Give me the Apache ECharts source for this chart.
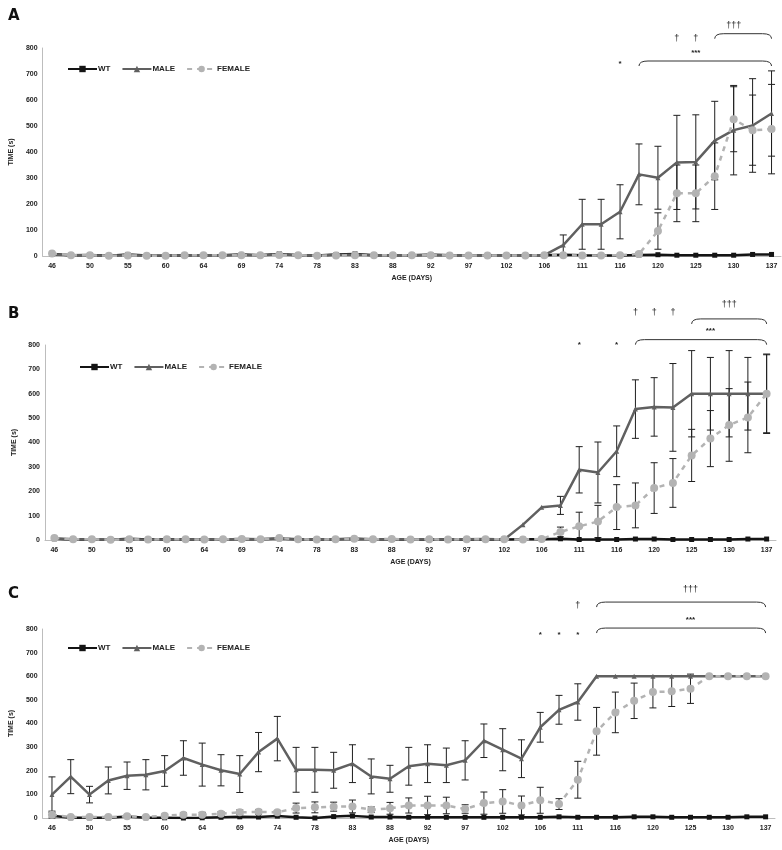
<!DOCTYPE html>
<html><head><meta charset="utf-8">
<script src="https://cdn.jsdelivr.net/npm/echarts@6/dist/echarts.min.js"></script>
<style>html,body{margin:0;padding:0;background:#fff}#c{width:782px;height:850px}</style>
</head><body><div id="c"></div>
<script>
// ---- categories (age in days) ----
const days = ['46','48','50','53','55','57','60','62','64','67','69','71','74','76','78','81','83','85','88','90','92','95','97','99','102','104','106','109','111','113','116','118','120','123','125','127','130','134','137'];
const yTicks = [0,100,200,300,400,500,600,700,800];
const seriesNames = ['WT','MALE','FEMALE'];

// ---- Panel A ----
const wtA     = [8,3,4,1,6,2,1,3,3,3,6,3,8,3,2,6,8,3,3,3,5,3,3,3,3,3,3,5,3,2,2,4,5,3,3,3,3,6,6];
const maleA   = [6,3,3,1,3,2,1,3,3,3,4,3,6,3,2,4,5,3,3,3,4,3,3,3,3,3,3,42,122,122,170,314,301,360,362,444,484,502,548];
const femaleA = [10,3,3,1,2,1,1,3,3,3,3,3,4,3,1,2,3,3,3,3,3,2,2,2,2,2,3,3,2,2,3,8,96,241,241,307,526,484,488];
const maleErrA   = [null,null,null,null,null,null,null,null,null,null,null,null,null,null,null,null,null,null,null,null,null,null,null,null,null,null,null,39,96,96,104,117,121,181,181,151,172,180,164];
const femaleErrA = [null,null,null,null,null,null,null,null,null,null,null,null,null,null,null,null,null,null,null,null,null,null,null,null,null,null,null,null,null,null,null,6,70,109,109,128,125,135,172];
const textsA = [[29.85,746,'*'],[33,835,'†'],[34,835,'†'],[36.15,887,'†††'],[34.4,791,'***']];
const bracketsA = [[34.66,38.03,855],[30.9,38.03,750]];

// ---- Panel B ----
const wtB     = [5,2,2,1,5,2,3,2,2,2,4,3,6,3,2,3,5,3,2,2,3,2,2,3,2,3,3,5,2,2,2,4,4,2,2,2,2,4,4];
const maleB   = [6,3,2,1,3,1,2,2,2,3,3,3,5,2,2,3,4,2,2,3,3,2,3,4,2,63,134,142,288,277,364,537,546,544,600,600,600,600,600];
const femaleB = [8,3,3,1,3,2,3,3,2,3,4,3,8,3,2,3,5,3,4,2,3,2,3,3,3,2,4,33,56,76,135,142,213,234,347,416,472,503,600];
const maleErrB   = [null,null,null,null,null,null,null,null,null,null,null,null,null,null,null,null,null,null,null,null,null,null,null,null,null,null,null,37,95,125,104,120,120,180,177,149,177,149,163];
const femaleErrB = [null,null,null,null,null,null,null,null,null,null,null,null,null,null,null,null,null,null,null,null,null,null,null,null,null,null,null,20,58,66,92,92,104,100,107,115,149,145,160];
const textsB = [[28.1,808,'*'],[29.76,808,'*'],[31.0,935,'†'],[32.1,935,'†'],[33.3,935,'†'],[35.7,965,'†††'],[34.9,866,'***']];
const bracketsB = [[34.0,38.08,907],[31.3,38.08,822]];

// ---- Panel C ----
const wtC     = [10,1,1,1,6,1,1,0,1,3,5,4,8,3,0,6,9,4,4,3,3,3,3,3,3,3,3,5,3,3,3,5,5,3,3,3,3,5,5];
const maleC   = [99,175,99,159,179,183,199,254,226,202,186,279,336,204,204,202,230,176,166,219,230,223,244,327,289,251,384,458,491,600,600,600,600,600,600,600,600,600,600];
const femaleC = [14,4,4,4,7,4,10,14,14,18,24,26,24,42,45,48,49,35,41,53,53,53,38,63,70,53,75,59,162,367,447,496,533,536,547,600,600,600,600];
const maleErrC   = [75,72,35,57,58,64,65,73,91,66,78,83,94,95,95,76,80,74,57,80,80,73,83,71,89,80,63,61,77,null,null,null,null,null,null,null,null,null,null];
const femaleErrC = [15,4,4,4,5,4,6,8,10,8,10,10,8,21,23,19,27,12,25,32,39,35,18,47,50,40,55,23,78,101,86,75,67,64,62,null,null,null,null];
const textsC = [[25.9,783,'*'],[26.8,783,'*'],[27.7,783,'*'],[28.1,899,'†'],[33.7,966,'†††'],[33.9,849,'***']];
const bracketsC = [[29.35,38.07,914],[29.35,38.07,804]];

const FONT = '"Liberation Sans", Arial, sans-serif';
const panels = [
  {title:'A', tTop:4, grid:{left:39,top:48,width:742,height:208}, legend:{left:62,top:60},
   wt:wtA, male:maleA, female:femaleA, mErr:maleErrA, fErr:femaleErrA, texts:textsA, brackets:bracketsA},
  {title:'B', tTop:302, grid:{left:45,top:345,width:731,height:195}, legend:{left:74,top:358},
   wt:wtB, male:maleB, female:femaleB, mErr:maleErrB, fErr:femaleErrB, texts:textsB, brackets:bracketsB},
  {title:'C', tTop:582, grid:{left:38,top:629,width:737,height:189}, legend:{left:62,top:639},
   wt:wtC, male:maleC, female:femaleC, mErr:maleErrC, fErr:femaleErrC, texts:textsC, brackets:bracketsC}
];

const option = {animation:false, backgroundColor:'#fff', title:[], grid:[], xAxis:[], yAxis:[], legend:[], series:[]};

function errData(vals, errs){
  const out=[];
  errs.forEach((e,i)=>{ if(e!=null){ out.push([i, Math.max(0, vals[i]-e), vals[i]+e]); } });
  return out;
}
function errRender(params, api){
  const i=api.value(0), lo=api.value(1), hi=api.value(2);
  const a=api.coord([i,hi]), b=api.coord([i,lo]);
  const w=3.5, st={stroke:'#1f1f1f', lineWidth:1};
  return {type:'group', children:[
    {type:'line', shape:{x1:a[0],y1:a[1],x2:b[0],y2:b[1]}, style:st},
    {type:'line', shape:{x1:a[0]-w,y1:a[1],x2:a[0]+w,y2:a[1]}, style:st},
    {type:'line', shape:{x1:b[0]-w,y1:b[1],x2:b[0]+w,y2:b[1]}, style:st}
  ]};
}

panels.forEach((p,k)=>{
  option.title.push({text:p.title, left:3, top:p.tTop, textStyle:{fontFamily:'"DejaVu Sans", sans-serif', fontWeight:'bold', fontSize:15, color:'#111'}});
  option.grid.push(Object.assign({containLabel:false}, p.grid));
  option.xAxis.push({type:'category', gridIndex:k, data:days, boundaryGap:true,
    name:'AGE (DAYS)', nameLocation:'middle', nameGap:19,
    nameTextStyle:{fontFamily:FONT, fontWeight:'bold', fontSize:7, color:'#222'},
    axisLine:{lineStyle:{color:'#bdbdbd', width:1}}, axisTick:{show:false},
    axisLabel:{interval:1, margin:7, fontFamily:FONT, fontWeight:'bold', fontSize:7, color:'#222'}});
  option.yAxis.push({type:'value', gridIndex:k, min:yTicks[0], max:yTicks[yTicks.length-1], interval:100,
    name:'TIME (s)', nameLocation:'middle', nameGap:19, nameRotate:90,
    nameTextStyle:{fontFamily:FONT, fontWeight:'bold', fontSize:7, color:'#222'},
    axisLine:{show:true, lineStyle:{color:'#bdbdbd', width:1}}, axisTick:{show:false}, splitLine:{show:false},
    axisLabel:{margin:5, fontFamily:FONT, fontWeight:'bold', fontSize:7, color:'#222'}});
  option.legend.push({left:p.legend.left, top:p.legend.top, orient:'horizontal', itemWidth:29, itemHeight:8, itemGap:11,
    data:seriesNames, selectedMode:false,
    textStyle:{fontFamily:FONT, fontWeight:'bold', fontSize:8, color:'#222', padding:[0,0,0,-4]}});
  const common = {xAxisIndex:k, yAxisIndex:k, type:'line', showSymbol:true};
  option.series.push(
    {type:'custom', name:'errM'+k, xAxisIndex:k, yAxisIndex:k, data:errData(p.male,p.mErr), renderItem:errRender, z:1, silent:true},
    {type:'custom', name:'errF'+k, xAxisIndex:k, yAxisIndex:k, data:errData(p.female,p.fErr), renderItem:errRender, z:1, silent:true},
    Object.assign({}, common, {name:'WT', data:p.wt, symbol:'rect', symbolSize:5, z:3,
      lineStyle:{color:'#141414', width:2.5}, itemStyle:{color:'#141414'}}),
    Object.assign({}, common, {name:'MALE', data:p.male, symbol:'triangle', symbolSize:5, z:4,
      lineStyle:{color:'#606060', width:2.5}, itemStyle:{color:'#606060'}}),
    Object.assign({}, common, {name:'FEMALE', data:p.female, symbol:'circle', symbolSize:8, z:5,
      lineStyle:{color:'#b3b3b3', width:2.5, type:[5,5]}, itemStyle:{color:'#b3b3b3'}}),
    {type:'custom', name:'brk'+k, xAxisIndex:k, yAxisIndex:k, data:p.brackets.map(b=>[b[0],b[1],b[2]]), clip:false, silent:true, z:6,
      renderItem:function(params, api){
        const a=api.coord([api.value(0), api.value(2)]), b=api.coord([api.value(1), api.value(2)]);
        const r=9, d=5, y=a[1];
        return {type:'path', shape:{pathData:`M${a[0]} ${y+d} Q${a[0]} ${y} ${a[0]+r} ${y} L${b[0]-r} ${y} Q${b[0]} ${y} ${b[0]} ${y+d}`},
          style:{fill:null, stroke:'#333', lineWidth:1}};
      }},
    {type:'custom', name:'txt'+k, xAxisIndex:k, yAxisIndex:k, data:p.texts.map(t=>[t[0],t[1]]), clip:false, silent:true, z:6,
      renderItem:function(params, api){
        const t=p.texts[params.dataIndex][2];
        const c=api.coord([api.value(0), api.value(1)]);
        const star = t.indexOf('*')>=0;
        return {type:'text', x:c[0], y:c[1]+(star?2:0), style:{text:t, fill:'#222', font:(star?'bold 8px ':'9px ')+FONT, align:'center', verticalAlign:'middle'}};
      }}
  );
});

const chart = echarts.init(document.getElementById('c'), null, {renderer:'canvas'});
chart.setOption(option);
</script></body></html>
